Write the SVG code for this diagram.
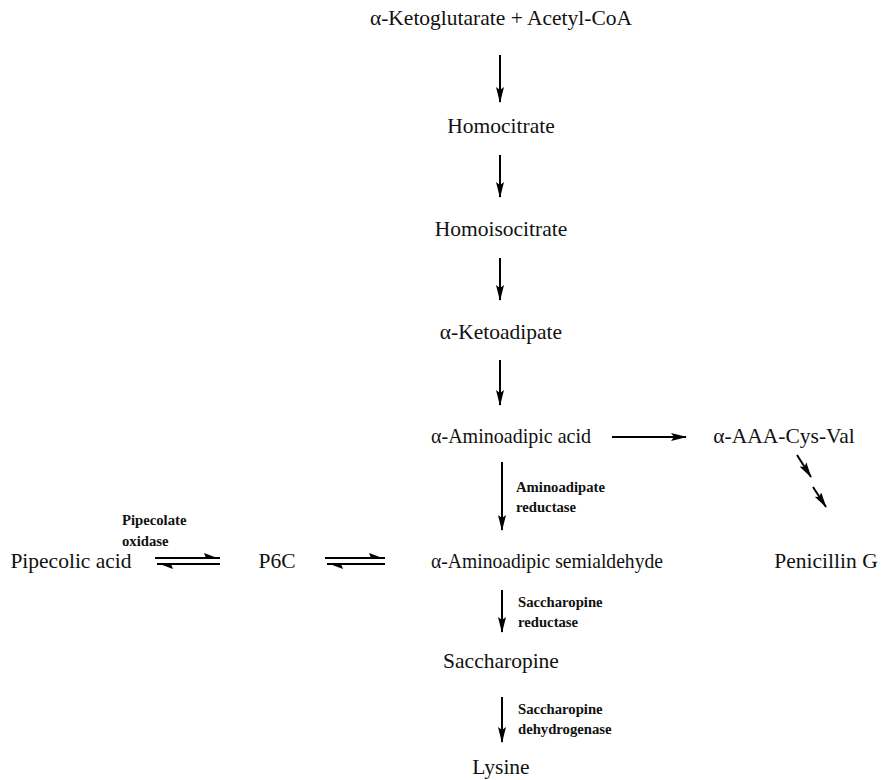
<svg xmlns="http://www.w3.org/2000/svg" width="882" height="780" viewBox="0 0 882 780">
<defs>
<marker id="ah" markerWidth="16" markerHeight="8" refX="15" refY="4" orient="auto" markerUnits="userSpaceOnUse" viewBox="0 0 16 8">
<path d="M0,0 L16,4 L0,8 L3,4 Z" fill="#000"/>
</marker>
</defs>
<style>
text{font-family:"Liberation Serif","Times New Roman","DejaVu Serif",serif}
.t{font-size:21.5px;fill:#111;text-anchor:middle}
.b{font-size:14.7px;font-weight:bold;fill:#111}
.ar{stroke:#000;stroke-width:2;fill:none;marker-end:url(#ah)}
.eq{stroke:#000;stroke-width:2;fill:none}
</style>
<rect width="882" height="780" fill="#fff"/>
<g id="nodes">
<g id="n-kg"><text class="t" x="501" y="25">α-Ketoglutarate + Acetyl-CoA</text></g>
<g id="n-homocitrate"><text class="t" x="501" y="133">Homocitrate</text></g>
<g id="n-homoisocitrate"><text class="t" x="501" y="236">Homoisocitrate</text></g>
<g id="n-ketoadipate"><text class="t" x="501" y="339">α-Ketoadipate</text></g>
<g id="n-aaa"><text class="t" x="511" y="443" textLength="160" lengthAdjust="spacingAndGlyphs">α-Aminoadipic acid</text></g>
<g id="n-acv"><text class="t" x="784" y="443">α-AAA-Cys-Val</text></g>
<g id="n-pen"><text class="t" x="826" y="568">Penicillin G</text></g>
<g id="n-pip"><text class="t" x="71" y="568">Pipecolic acid</text></g>
<g id="n-p6c"><text class="t" x="277" y="568">P6C</text></g>
<g id="n-semi"><text class="t" x="547" y="568" textLength="232" lengthAdjust="spacingAndGlyphs">α-Aminoadipic semialdehyde</text></g>
<g id="n-sacch"><text class="t" x="501" y="668">Saccharopine</text></g>
<g id="n-lys"><text class="t" x="501" y="774">Lysine</text></g>
</g>
<g id="labels">
<text class="b" x="516" y="492">Aminoadipate</text>
<text class="b" x="516" y="512">reductase</text>
<text class="b" x="122" y="525">Pipecolate</text>
<text class="b" x="122" y="546">oxidase</text>
<text class="b" x="518" y="607">Saccharopine</text>
<text class="b" x="518" y="627">reductase</text>
<text class="b" x="518" y="714">Saccharopine</text>
<text class="b" x="518" y="734">dehydrogenase</text>
</g>
<g id="connectors">
<line class="ar" x1="500" y1="55" x2="500" y2="102"/>
<line class="ar" x1="500" y1="155" x2="500" y2="197"/>
<line class="ar" x1="500" y1="258" x2="500" y2="300"/>
<line class="ar" x1="500" y1="360" x2="500" y2="405"/>
<line class="ar" x1="502" y1="462" x2="502" y2="530"/>
<line class="ar" x1="502" y1="590" x2="502" y2="632"/>
<line class="ar" x1="502" y1="697" x2="502" y2="742"/>
<line class="ar" x1="612" y1="437" x2="686" y2="437"/>
<line class="ar" x1="797" y1="455" x2="811" y2="477"/>
<line class="ar" x1="813" y1="487" x2="826" y2="507"/>
<g id="eq1">
<line class="eq" x1="155" y1="558" x2="220" y2="558"/>
<path d="M220,559 L204,553 L206,558 Z" fill="#000"/>
<line class="eq" x1="157" y1="564" x2="220" y2="564"/>
<path d="M157,563 L173,569 L171,564 Z" fill="#000"/>
</g>
<g id="eq2">
<line class="eq" x1="325" y1="558" x2="385" y2="558"/>
<path d="M385,559 L369,553 L371,558 Z" fill="#000"/>
<line class="eq" x1="327" y1="564" x2="385" y2="564"/>
<path d="M327,563 L343,569 L341,564 Z" fill="#000"/>
</g>
</g>
</svg>
